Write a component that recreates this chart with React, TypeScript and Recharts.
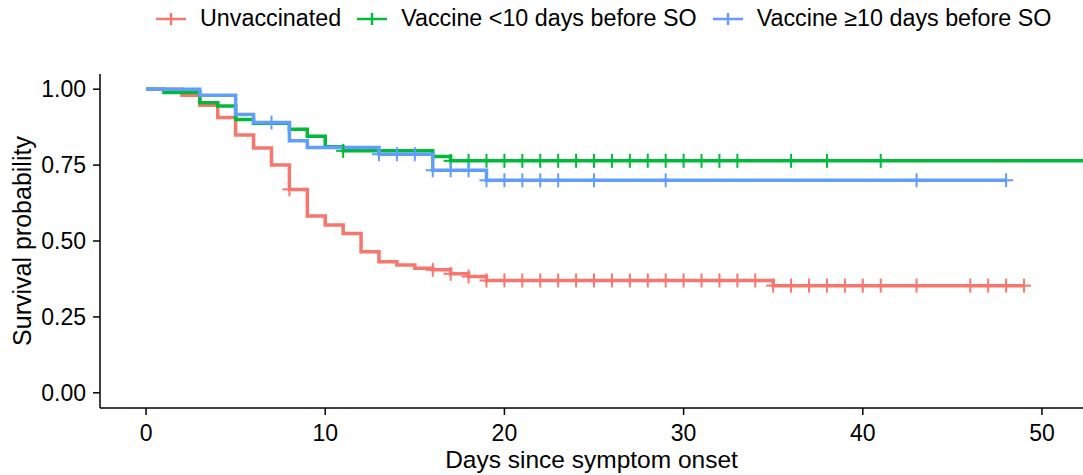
import React from 'react';
import { ComposedChart, Line, Scatter, XAxis, YAxis } from 'recharts';

const FONT = '"Liberation Sans", Arial, Helvetica, sans-serif';

// Kaplan-Meier steps: [day, survival]
const unvaccinatedSteps = [
  [0, 1], [2, 0.98], [3, 0.947], [4, 0.907], [5, 0.849], [6, 0.806], [7, 0.75],
  [8, 0.67], [9, 0.582], [10, 0.553], [11, 0.525], [12, 0.465], [13, 0.432],
  [14, 0.421], [15, 0.41], [16, 0.405], [17, 0.392], [18, 0.383], [19, 0.37],
  [35, 0.353], [49, 0.353],
];
const earlyVaccineSteps = [
  [0, 1], [1, 0.989], [3, 0.955], [4, 0.945], [5, 0.9], [6, 0.888], [8, 0.868],
  [9, 0.845], [10, 0.81], [11, 0.797], [16, 0.778], [17, 0.764], [52.3, 0.764],
];
const lateVaccineSteps = [
  [0, 1], [3, 0.98], [5, 0.917], [6, 0.89], [8, 0.83], [9, 0.808], [13, 0.786],
  [16, 0.733], [19, 0.7], [48, 0.7],
];

// censoring marks: [day, survival]
const unvaccinatedCensors = [
  [8, 0.67], [16, 0.405], [17, 0.392], [18, 0.383], [19, 0.37], [20, 0.37], [21, 0.37],
  [22, 0.37], [23, 0.37], [24, 0.37], [25, 0.37], [26, 0.37], [27, 0.37], [28, 0.37],
  [29, 0.37], [30, 0.37], [31, 0.37], [32, 0.37], [33, 0.37], [34, 0.37],
  [35, 0.353], [36, 0.353], [37, 0.353], [38, 0.353], [39, 0.353], [40, 0.353],
  [41, 0.353], [43, 0.353], [46, 0.353], [47, 0.353], [48, 0.353], [49, 0.353],
];
const earlyVaccineCensors = [
  [11, 0.797], [17, 0.764], [18, 0.764], [19, 0.764], [20, 0.764], [21, 0.764],
  [22, 0.764], [23, 0.764], [24, 0.764], [25, 0.764], [26, 0.764], [27, 0.764],
  [28, 0.764], [29, 0.764], [30, 0.764], [31, 0.764], [32, 0.764], [33, 0.764],
  [36, 0.764], [38, 0.764], [41, 0.764],
];
const lateVaccineCensors = [
  [7, 0.89], [13, 0.786], [14, 0.786], [15, 0.786], [16, 0.733], [17, 0.733],
  [18, 0.733], [19, 0.7], [20, 0.7], [21, 0.7], [22, 0.7], [23, 0.7], [25, 0.7],
  [29, 0.7], [43, 0.7], [48, 0.7],
];

const xTicks = [0, 10, 20, 30, 40, 50];
const yTicks = [0, 0.25, 0.5, 0.75, 1];

const series = [
  { name: 'Unvaccinated', color: '#F8766D', steps: unvaccinatedSteps, censors: unvaccinatedCensors },
  { name: 'Vaccine <10 days before SO', color: '#00BA38', steps: earlyVaccineSteps, censors: earlyVaccineCensors },
  { name: 'Vaccine \u226510 days before SO', color: '#619CFF', steps: lateVaccineSteps, censors: lateVaccineCensors },
];

const toRows = (pts: number[][]) => pts.map(([t, s]) => ({ t, s }));

const crossShape = (color: string) => (props: any) => {
  const { cx, cy } = props;
  if (cx == null || cy == null) return <g />;
  return (
    <g>
      <line x1={cx - 7} x2={cx + 7} y1={cy} y2={cy} stroke={color} strokeWidth={2} />
      <line x1={cx} x2={cx} y1={cy - 7} y2={cy + 7} stroke={color} strokeWidth={2} />
    </g>
  );
};

const LegendRow = () => (
  <div
    style={{
      position: 'absolute',
      left: 156,
      top: 5,
      display: 'flex',
      alignItems: 'center',
      gap: 16,
      fontFamily: FONT,
      fontSize: 23.3,
      color: '#000',
      whiteSpace: 'nowrap',
    }}
  >
    {series.map((s) => (
      <div key={s.name} style={{ display: 'flex', alignItems: 'center', gap: 14 }}>
        <svg width={30} height={16}>
          <line x1={0} x2={30} y1={8} y2={8} stroke={s.color} strokeWidth={2.5} />
          <line x1={15} x2={15} y1={2} y2={14} stroke={s.color} strokeWidth={2.5} />
        </svg>
        <span>{s.name}</span>
      </div>
    ))}
  </div>
);

export default function App() {
  const tickStyle = { fontSize: 23, fill: '#000', fontFamily: FONT };
  return (
    <div
      style={{
        position: 'absolute',
        left: 0,
        top: 0,
        width: 1083,
        height: 475,
        overflow: 'hidden',
        background: '#fff',
      }}
    >
      <LegendRow />
      <ComposedChart width={1083} height={475} margin={{ top: 74, right: 0, bottom: 0, left: 0 }}>
        <XAxis
          type="number"
          dataKey="t"
          domain={[-2.57, 52.29]}
          allowDataOverflow
          ticks={xTicks}
          height={67}
          tickSize={7}
          tickMargin={10}
          tick={tickStyle}
          axisLine={{ stroke: '#000', strokeWidth: 1.5 }}
          tickLine={{ stroke: '#000', strokeWidth: 1.5 }}
          label={{
            value: 'Days since symptom onset',
            position: 'insideBottom',
            offset: 7,
            style: { fontSize: 24.5, fill: '#000', fontFamily: FONT },
          }}
        />
        <YAxis
          type="number"
          dataKey="s"
          domain={[-0.05, 1.05]}
          allowDataOverflow
          ticks={yTicks}
          tickFormatter={(v: number) => v.toFixed(2)}
          width={100}
          tickSize={7}
          tickMargin={7}
          tick={tickStyle}
          axisLine={{ stroke: '#000', strokeWidth: 1.5 }}
          tickLine={{ stroke: '#000', strokeWidth: 1.5 }}
          label={{
            value: 'Survival probability',
            angle: -90,
            position: 'insideLeft',
            offset: 22,
            style: { fontSize: 25, fill: '#000', fontFamily: FONT, textAnchor: 'middle' },
          }}
        />
        {series.map((s) => (
          <Line
            key={s.name + '-line'}
            data={toRows(s.steps)}
            dataKey="s"
            type="stepAfter"
            stroke={s.color}
            strokeWidth={3.5}
            dot={false}
            activeDot={false}
            isAnimationActive={false}
          />
        ))}
        {series.map((s) => (
          <Scatter
            key={s.name + '-cens'}
            data={toRows(s.censors)}
            dataKey="s"
            shape={crossShape(s.color)}
            isAnimationActive={false}
          />
        ))}
      </ComposedChart>
    </div>
  );
}
